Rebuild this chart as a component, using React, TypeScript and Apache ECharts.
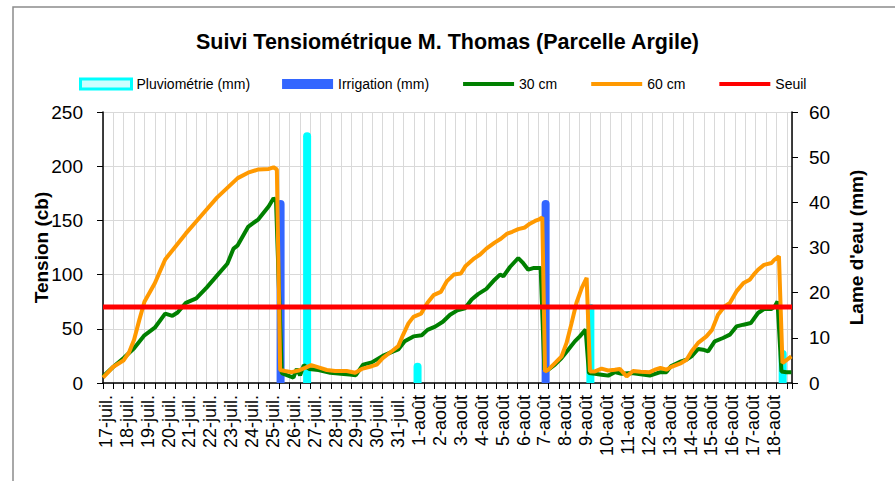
import React, { useEffect, useRef } from 'react';
import * as echarts from 'echarts';

const dayLabels = [
  '17-juil.', '18-juil.', '19-juil.', '20-juil.', '21-juil.', '22-juil.', '23-juil.', '24-juil.',
  '25-juil.', '26-juil.', '27-juil.', '28-juil.', '29-juil.', '30-juil.', '31-juil.',
  '1-août', '2-août', '3-août', '4-août', '5-août', '6-août', '7-août', '8-août', '9-août',
  '10-août', '11-août', '12-août', '13-août', '14-août', '15-août', '16-août', '17-août', '18-août',
];

// time in days since 17-juil. 00:00
const t60 = [0, 0.5, 1.0, 1.25, 1.5, 1.75, 2.0, 2.5, 3.0, 3.5, 4.0, 4.5, 5.0, 5.5, 6.0, 6.5, 7.0, 7.5, 8.0, 8.23, 8.39, 8.55, 8.79, 9.11, 9.43, 9.75, 10.05, 10.48, 10.8, 11.2, 11.76, 12.17, 12.49, 12.97, 13.21, 13.5, 13.98, 14.25, 14.47, 14.74, 14.98, 15.35, 15.66, 15.95, 16.3, 16.6, 16.93, 17.27, 17.5, 17.92, 18.2, 18.5, 18.9, 19.2, 19.48, 19.75, 20.04, 20.36, 20.6, 20.85, 21.05, 21.2, 21.33, 21.49, 21.81, 22.13, 22.37, 22.61, 22.85, 23.1, 23.34, 23.5, 23.74, 24.06, 24.38, 24.7, 24.94, 25.27, 25.58, 25.95, 26.39, 26.63, 26.9, 27.19, 27.4, 27.9, 28.16, 28.4, 28.72, 29.12, 29.39, 29.68, 30.0, 30.25, 30.57, 30.91, 31.21, 31.4, 31.61, 31.9, 32.26, 32.4, 32.62, 32.79, 32.9, 33.22];
const v60 = [5, 15, 21, 28, 40, 58, 75, 92, 114, 126, 138, 149, 160, 171, 180, 189, 194, 197, 197.5, 199, 197, 12, 11, 10, 11.5, 14, 16.5, 14, 12, 11, 11, 9.5, 13, 15.5, 17, 23, 30, 34, 44, 55, 61, 64, 74, 81, 84, 94, 100, 101, 108, 115, 118.5, 124, 129.5, 133, 137.5, 139.5, 142, 143.5, 147, 149.5, 151, 152.8, 10.7, 12.3, 18.4, 24.5, 37, 55, 74, 87.6, 97, 10.7, 10.7, 13.2, 11.5, 12.3, 13, 6.1, 11, 10.3, 10, 12.3, 13.8, 12.3, 14.6, 18.4, 21.5, 29, 37, 43, 49, 63, 70.7, 73.8, 84.5, 92.3, 95.3, 100, 104.5, 109, 110.7, 113.7, 116.8, 18.4, 20, 24.5];

const t30 = [0, 0.5, 1.0, 1.5, 2.0, 2.5, 3.0, 3.35, 3.6, 4.0, 4.5, 5.0, 5.5, 6.0, 6.3, 6.5, 7.0, 7.5, 8.0, 8.23, 8.35, 8.63, 8.9, 9.19, 9.35, 9.51, 9.69, 9.95, 10.4, 10.97, 11.48, 11.9, 12.2, 12.55, 12.97, 13.5, 13.98, 14.25, 14.56, 14.98, 15.38, 15.66, 16.03, 16.4, 16.75, 17.1, 17.47, 17.79, 18.1, 18.5, 18.9, 19.16, 19.32, 19.64, 20.04, 20.28, 20.52, 20.76, 21.12, 21.3, 21.49, 21.81, 22.13, 22.45, 22.77, 23.01, 23.29, 23.45, 23.74, 24.06, 24.38, 24.7, 25.02, 25.51, 25.95, 26.39, 26.9, 27.19, 27.4, 27.9, 28.16, 28.4, 28.72, 28.96, 29.2, 29.52, 29.92, 30.25, 30.57, 30.91, 31.26, 31.61, 31.9, 32.26, 32.42, 32.55, 32.74, 32.98, 33.22];
const v30 = [6, 15, 23, 32, 44, 51, 64, 62, 65, 74, 78, 88, 99, 110, 124, 127, 144, 151, 163, 170.5, 168, 9, 7, 5, 13, 7, 16.5, 13, 12, 9.5, 8.6, 7.8, 7.2, 17, 19, 25, 29, 31, 38.5, 43, 44, 49, 52, 56.5, 63, 67, 69, 77, 82, 86.8, 95.3, 100, 98.4, 107, 115.3, 110.5, 104.5, 106, 106, 12.3, 12.3, 16.9, 23, 30.7, 38.4, 43, 49.2, 9.2, 8.6, 7.7, 6.8, 10, 8.6, 9.2, 8, 6.8, 10, 10, 15.3, 20, 21.5, 24.5, 31.4, 30.7, 29.2, 38.4, 41.5, 44.6, 52.2, 53.8, 55.3, 64.6, 68.3, 68.3, 70.7, 75.3, 10.7, 10, 10];

const pluvioDays = [9.85, 15.18, 23.52, 32.8];
const pluvioMm = [55.5, 4.5, 17.5, 7.3];
const irrigDays = [8.57, 21.36];
const irrigMm = [40.5, 40.5];

const seuil = 70;
const xMax = 33.25;

const FONT = "'Liberation Sans', Arial, sans-serif";

export default function App() {
  const ref = useRef<HTMLDivElement>(null);

  useEffect(() => {
    if (!ref.current) return;
    const chart = echarts.init(ref.current, null, { renderer: 'svg' });
    const zip = (t: number[], v: number[]) => t.map((x, i) => [x, v[i]]);
    const gray = '#d9d9d9';
    const hiddenSymbol = { opacity: 0 };

    chart.setOption({
      animation: false,
      textStyle: { fontFamily: FONT },
      title: {
        text: 'Suivi Tensiométrique M. Thomas (Parcelle Argile)',
        left: 'center',
        top: 26,
        textStyle: { fontFamily: FONT, fontSize: 21.5, fontWeight: 'bold', color: '#000' },
      },
      legend: {
        left: 74,
        top: 72,
        itemWidth: 51,
        itemHeight: 10,
        itemGap: 32,
        textStyle: { fontFamily: FONT, fontSize: 14, color: '#000' },
        data: [
          { name: 'Pluviométrie (mm)', icon: 'rect', itemStyle: { color: '#ccffff', borderColor: '#00ffff', borderWidth: 3 } },
          { name: 'Irrigation (mm)', icon: 'rect' },
          { name: '30 cm', itemStyle: hiddenSymbol, lineStyle: { width: 4 } },
          { name: '60 cm', itemStyle: hiddenSymbol, lineStyle: { width: 4 } },
          { name: 'Seuil', itemStyle: hiddenSymbol, lineStyle: { width: 4 } },
        ],
      },
      graphic: [
        {
          type: 'rect',
          shape: { x: 13, y: 7, width: 900, height: 520 },
          style: { fill: 'none', stroke: '#8c8c8c', lineWidth: 1.5 },
          silent: true,
          z: -10,
        },
      ],
      grid: { left: 103, right: 103, top: 112, bottom: 98, containLabel: false },
      xAxis: [
        {
          type: 'value',
          min: 0,
          max: xMax,
          interval: 0.5,
          axisLine: { show: true, lineStyle: { color: '#000', width: 1.5 } },
          axisTick: { show: true, inside: false, length: 6, lineStyle: { color: '#000' } },
          axisLabel: { show: false },
          splitLine: { show: true, lineStyle: { color: gray, width: 1 } },
        },
        {
          type: 'category',
          data: dayLabels,
          boundaryGap: true,
          position: 'bottom',
          axisLine: { show: false },
          axisTick: { show: false },
          splitLine: { show: false },
          axisLabel: {
            rotate: 90,
            interval: 0,
            fontSize: 18,
            color: '#000',
            margin: 12,
            verticalAlign: 'bottom',
            lineHeight: 15,
            fontFamily: FONT,
          },
        },
      ],
      yAxis: [
        {
          type: 'value',
          min: 0,
          max: 250,
          interval: 50,
          name: 'Tension (cb)',
          nameLocation: 'middle',
          nameGap: 52,
          nameMoveOverlap: false,
          nameTextStyle: { fontFamily: FONT, fontSize: 19, fontWeight: 'bold', color: '#000' },
          axisLine: { show: true, lineStyle: { color: '#000', width: 1.5 } },
          axisTick: { show: true, inside: false, length: 6, lineStyle: { color: '#000' } },
          axisLabel: { fontSize: 19, color: '#000', margin: 20, fontFamily: FONT },
          splitLine: { show: true, lineStyle: { color: gray, width: 1 } },
        },
        {
          type: 'value',
          min: 0,
          max: 60,
          interval: 10,
          position: 'right',
          name: "Lame d'eau (mm)",
          nameLocation: 'middle',
          nameGap: 55,
          nameMoveOverlap: false,
          nameTextStyle: { fontFamily: FONT, fontSize: 19, fontWeight: 'bold', color: '#000' },
          axisLine: { show: true, lineStyle: { color: '#000', width: 1.5 } },
          axisTick: { show: true, inside: false, length: 6, lineStyle: { color: '#000' } },
          axisLabel: { fontSize: 19, color: '#000', margin: 17, fontFamily: FONT },
          splitLine: { show: false },
        },
      ],
      series: [
        {
          name: 'Pluviométrie (mm)',
          type: 'bar',
          xAxisIndex: 0,
          yAxisIndex: 1,
          barWidth: 8,
          barGap: '-100%',
          itemStyle: { color: '#00ffff', borderRadius: [4, 4, 0, 0] },
          data: zip(pluvioDays, pluvioMm),
          z: 1,
        },
        {
          name: 'Irrigation (mm)',
          type: 'bar',
          xAxisIndex: 0,
          yAxisIndex: 1,
          barWidth: 8,
          barGap: '-100%',
          itemStyle: { color: '#3366ff', borderRadius: [4, 4, 0, 0] },
          data: zip(irrigDays, irrigMm),
          z: 1,
        },
        {
          name: '30 cm',
          type: 'line',
          xAxisIndex: 0,
          yAxisIndex: 0,
          showSymbol: false,
          symbol: 'none',
          lineStyle: { color: '#008000', width: 4 },
          itemStyle: { color: '#008000' },
          data: zip(t30, v30),
          z: 3,
        },
        {
          name: '60 cm',
          type: 'line',
          xAxisIndex: 0,
          yAxisIndex: 0,
          showSymbol: false,
          symbol: 'none',
          lineStyle: { color: '#ff9900', width: 4 },
          itemStyle: { color: '#ff9900' },
          data: zip(t60, v60),
          z: 4,
        },
        {
          name: 'Seuil',
          type: 'line',
          xAxisIndex: 0,
          yAxisIndex: 0,
          showSymbol: false,
          symbol: 'none',
          lineStyle: { color: '#ff0000', width: 5 },
          itemStyle: { color: '#ff0000' },
          data: [[0, seuil], [xMax, seuil]],
          z: 5,
        },
      ],
    });

    return () => chart.dispose();
  }, []);

  return <div ref={ref} style={{ width: 895, height: 481, position: 'absolute', left: 0, top: 0 }} />;
}
